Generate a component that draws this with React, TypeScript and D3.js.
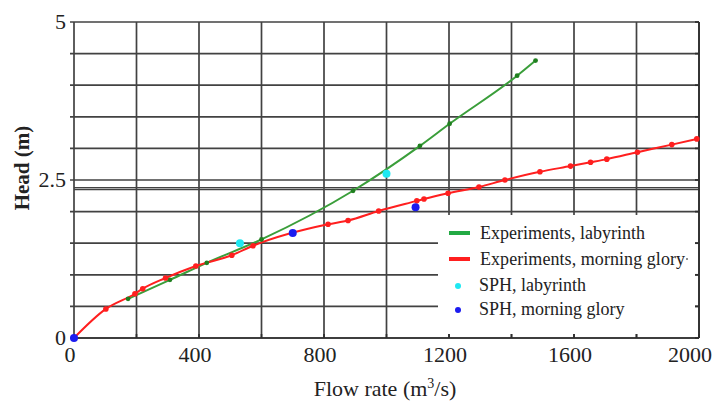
import * as d3 from "d3";

const flowTicks = [0, 400, 800, 1200, 1600, 2000];
const headTicks = [0, 2.5, 5];
const gridFlow = [0, 200, 400, 600, 800, 1000, 1200, 1400, 1600, 1800, 2000];
const gridHead = [0, 0.5, 1, 1.5, 2, 2.5, 3, 3.5, 4, 4.5, 5];
const extraHead = [2.38, 2.35];

// Experiments, morning glory
const mgFlow = [0, 102, 195, 220, 293, 390, 505, 573, 813, 877, 975, 1097, 1120, 1197, 1296, 1379, 1491, 1589, 1653, 1705, 1803, 1913, 1993];
const mgHead = [0, 0.46, 0.7, 0.78, 0.95, 1.14, 1.31, 1.46, 1.8, 1.86, 2.01, 2.17, 2.2, 2.29, 2.39, 2.5, 2.63, 2.72, 2.78, 2.83, 2.94, 3.06, 3.15];

// Experiments, labyrinth
const labFlow = [173, 307, 425, 600, 893, 1107, 1202, 1418, 1477];
const labHead = [0.62, 0.92, 1.19, 1.56, 2.33, 3.04, 3.39, 4.15, 4.39];

// SPH results
const sphLabFlow = [531, 1000];
const sphLabHead = [1.5, 2.6];
const sphMgFlow = [0, 700, 1093];
const sphMgHead = [0, 1.66, 2.07];

const GREEN = "#3a9e3a";
const RED = "#ff1f1f";
const CYAN = "#1fe8f2";
const BLUE = "#1c1cf0";
const GRID = "#2e2e2e";
const FONT = "'Liberation Serif', 'Times New Roman', serif";

export default function App() {
  const width = 715;
  const height = 407;
  const x = d3.scaleLinear().domain([0, 2000]).range([74, 699]);
  const y = d3.scaleLinear().domain([0, 5]).range([338, 22]);

  const line = d3
    .line<[number, number]>()
    .x((d) => x(d[0]))
    .y((d) => y(d[1]))
    .curve(d3.curveMonotoneX);

  const mg = mgFlow.map((f, i) => [f, mgHead[i]] as [number, number]);
  const lab = labFlow.map((f, i) => [f, labHead[i]] as [number, number]);
  const sphLab = sphLabFlow.map((f, i) => [f, sphLabHead[i]] as [number, number]);
  const sphMg = sphMgFlow.map((f, i) => [f, sphMgHead[i]] as [number, number]);

  const [x0, x1] = x.range();
  const [y0, y1] = y.range();

  return (
    <div style={{ position: "absolute", left: 0, top: 0 }}>
      <svg width={width} height={height} style={{ display: "block", background: "#fff" }}>
        {/* grid */}
        <g stroke={GRID} strokeWidth={1.7} opacity={0.9}>
          {gridFlow.map((f) => (
            <line key={`gx${f}`} x1={x(f)} x2={x(f)} y1={y1} y2={y0} />
          ))}
          {gridHead.map((h) => (
            <line key={`gy${h}`} x1={x0 - 4} x2={x1} y1={y(h)} y2={y(h)} />
          ))}
          {extraHead.map((h) => (
            <line key={`ge${h}`} x1={x0} x2={x1} y1={y(h)} y2={y(h)} strokeWidth={1.4} />
          ))}
        </g>

        {/* legend background */}
        <rect x={438} y={215} width={257} height={119} fill="#fff" />

        {/* frame ticks visible over legend */}
        <g stroke={GRID} strokeWidth={1.7}>
          {gridFlow.map((f) => (
            <line key={`tb${f}`} x1={x(f)} x2={x(f)} y1={y0} y2={y0 - 4} />
          ))}
          {gridHead.map((h) => (
            <line key={`tr${h}`} x1={x1} x2={x1 - 4} y1={y(h)} y2={y(h)} />
          ))}
          <line x1={x0} x2={x1} y1={y0} y2={y0} />
          <line x1={x1} x2={x1} y1={y1} y2={y0} />
        </g>

        {/* data */}
        <path d={line(lab) ?? ""} fill="none" stroke={GREEN} strokeWidth={2} />
        <path d={line(mg) ?? ""} fill="none" stroke={RED} strokeWidth={2} />
        {lab.map((d, i) => (
          <circle key={`lp${i}`} cx={x(d[0])} cy={y(d[1])} r={2.4} fill="#1f7f1f" />
        ))}
        {mg.slice(1).map((d, i) => (
          <circle key={`mp${i}`} cx={x(d[0])} cy={y(d[1])} r={2.8} fill={RED} />
        ))}
        {sphLab.map((d, i) => (
          <circle key={`sl${i}`} cx={x(d[0])} cy={y(d[1])} r={4} fill={CYAN} />
        ))}
        {sphMg.map((d, i) => (
          <circle key={`sm${i}`} cx={x(d[0])} cy={y(d[1])} r={4} fill={BLUE} />
        ))}

        {/* tick labels */}
        <g fontFamily={FONT} fontSize={22} fill="#222">
          {flowTicks.map((f, i) => (
            <text key={`xl${f}`} x={x(f) - (i === flowTicks.length - 1 ? 9 : 4)} y={362} textAnchor="middle">
              {f}
            </text>
          ))}
          {headTicks.map((h) => (
            <text key={`yl${h}`} x={66} y={y(h) + 7} textAnchor="end">
              {h}
            </text>
          ))}
        </g>

        {/* axis titles */}
        <text x={385} y={396} textAnchor="middle" fontFamily={FONT} fontSize={22} fill="#222">
          Flow rate (m
          <tspan fontSize={14} dy={-8}>3</tspan>
          <tspan dy={8}>/s)</tspan>
        </text>
        <text
          transform="translate(29,168) rotate(-90)"
          textAnchor="middle"
          fontFamily={FONT}
          fontSize={21}
          fontWeight="bold"
          fill="#222"
        >
          Head (m)
        </text>

        {/* legend */}
        <g fontFamily={FONT} fontSize={18} fill="#222">
          <line x1={449} x2={470} y1={233} y2={233} stroke="#22aa44" strokeWidth={4} />
          <text x={480} y={239} textLength={165}>Experiments, labyrinth</text>
          <line x1={449} x2={470} y1={259} y2={259} stroke={RED} strokeWidth={4} />
          <text x={480} y={265} textLength={205}>Experiments, morning glory</text>
          <circle cx={687} cy={259} r={1} fill="#666" />
          <circle cx={458} cy={286} r={3} fill={CYAN} />
          <text x={479} y={291}>SPH, labyrinth</text>
          <circle cx={458} cy={310} r={3} fill={BLUE} />
          <text x={479} y={315}>SPH, morning glory</text>
        </g>
      </svg>
    </div>
  );
}
